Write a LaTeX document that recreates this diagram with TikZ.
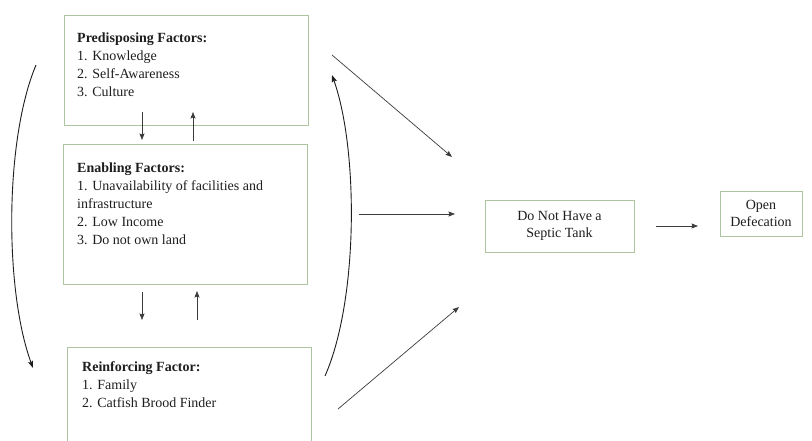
\documentclass[tikz,border=0pt]{standalone}
\usepackage{fontspec}
\setmainfont{Liberation Serif}
\usetikzlibrary{arrows.meta}
\definecolor{boxline}{RGB}{172,196,160}
\definecolor{ink}{RGB}{30,30,30}
\definecolor{arrowink}{RGB}{60,60,60}
\tikzset{
  factorbox/.style={draw=boxline, line width=0.8pt, rectangle, inner sep=0pt},
  boxtext/.style={anchor=north west, inner sep=0pt, align=left, text=ink,
    font=\fontsize{14}{18}\selectfont},
  ctext/.style={inner sep=0pt, align=center, text=ink,
    font=\fontsize{14}{17}\selectfont},
  conn/.style={draw=arrowink, line width=0.7pt, -{Stealth[length=6.5pt,width=5pt,inset=1pt]}},
  curveconn/.style={draw=ink, line width=0.9pt, -{Stealth[length=7pt,width=5pt,inset=1pt]}}
}
\begin{document}
\begin{tikzpicture}[x=1pt,y=-1pt]
\clip (0,0) rectangle (812,441);
\fill[white] (0,0) rectangle (812,441);
% boxes
\node[factorbox, minimum width=244pt, minimum height=110pt] (pbox) at (186,70) {};
\node[factorbox, minimum width=244pt, minimum height=140pt] (ebox) at (185,214) {};
\node[factorbox, minimum width=244pt, minimum height=123pt] (rbox) at (189,408.5) {};
\node[factorbox, minimum width=149pt, minimum height=52pt] (sbox) at (559.5,226) {};
\node[factorbox, minimum width=82pt, minimum height=45pt] (obox) at (761,213.5) {};
% texts
\node[boxtext] (ptext) at (77,32.5) {\textbf{Predisposing Factors:}\\1. Knowledge\\2. Self-Awareness\\3. Culture};
\node[boxtext] (etext) at (77,162.5) {\textbf{Enabling Factors:}\\1. Unavailability of facilities and\\infrastructure\\2. Low Income\\3. Do not own land};
\node[boxtext] (rtext) at (82,361.5) {\textbf{Reinforcing Factor:}\\1. Family\\2. Catfish Brood Finder};
\node[ctext] (stext) at (sbox.center) {Do Not Have a\\Septic Tank};
\node[ctext] (otext) at (obox.center) {Open\\Defecation};
% connector end points
\coordinate (pe1s) at (142,112); \coordinate (pe1e) at (142,140);
\coordinate (pe2s) at (193,141); \coordinate (pe2e) at (193,112);
\coordinate (er1s) at (142,292); \coordinate (er1e) at (142,320);
\coordinate (er2s) at (197,320); \coordinate (er2e) at (197,291);
\coordinate (lcs) at (36,65); \coordinate (lce) at (33,368);
\coordinate (rcs) at (325,376); \coordinate (rce) at (332,75);
\coordinate (d1s) at (332,55); \coordinate (d1e) at (452,157);
\coordinate (d2s) at (359,214); \coordinate (d2e) at (455,214);
\coordinate (d3s) at (338,409); \coordinate (d3e) at (459,307);
\coordinate (sos) at (656,226); \coordinate (soe) at (698,226);
% connectors
\draw[conn] (pe1s) -- (pe1e);
\draw[conn] (pe2s) -- (pe2e);
\draw[conn] (er1s) -- (er1e);
\draw[conn] (er2s) -- (er2e);
\draw[curveconn] (lcs) .. controls (4.5,140) and (4.5,290) .. (lce);
\draw[curveconn] (rcs) .. controls (358.5,300) and (358.5,150) .. (rce);
\draw[conn] (d1s) -- (d1e);
\draw[conn] (d2s) -- (d2e);
\draw[conn] (d3s) -- (d3e);
\draw[conn] (sos) -- (soe);
\end{tikzpicture}
\end{document}
